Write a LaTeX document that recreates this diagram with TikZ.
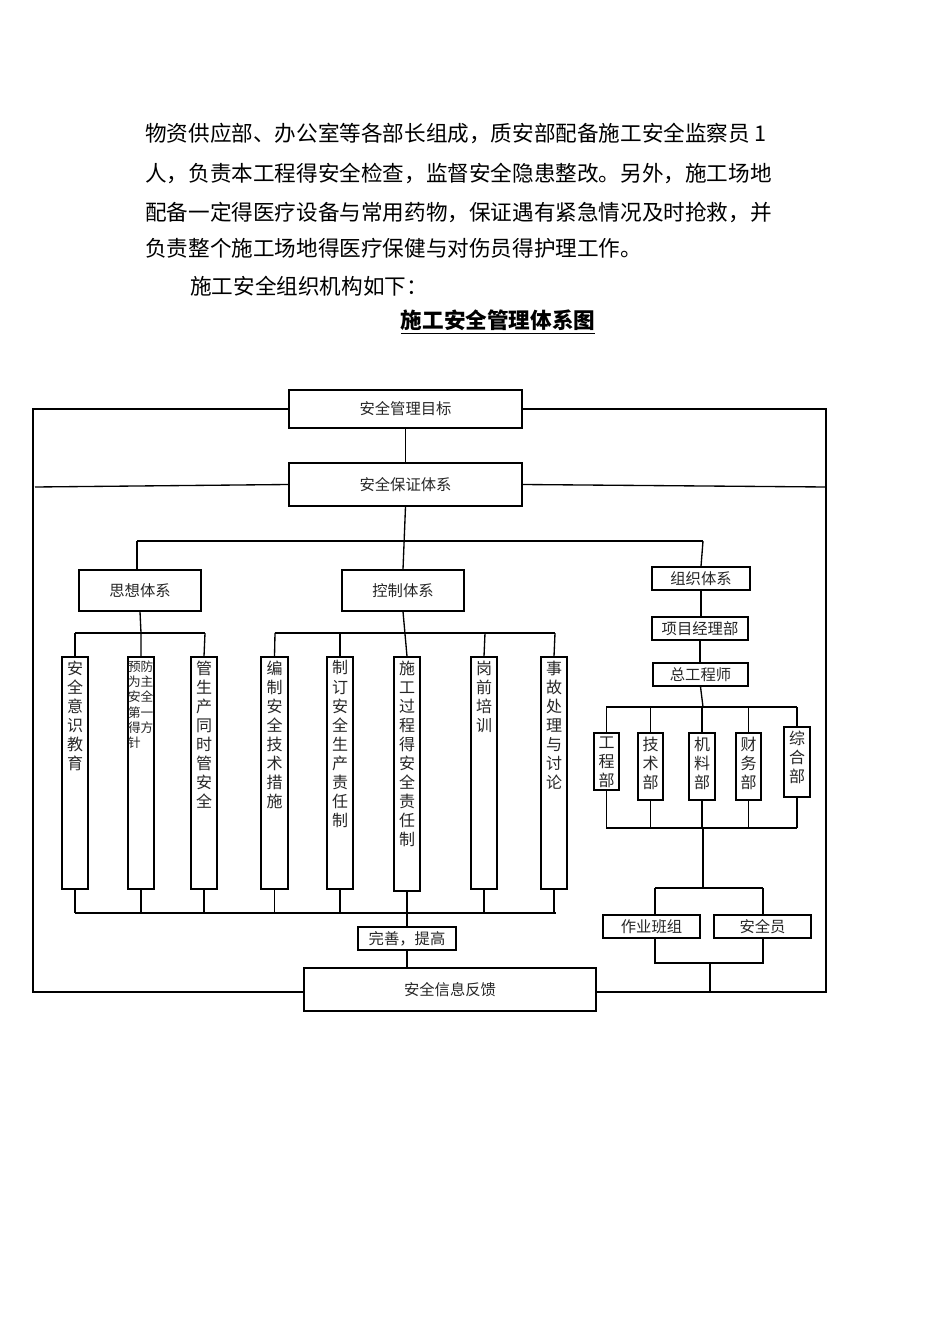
\documentclass[tikz,border=0pt]{standalone}
\usepackage{fontspec}
\setmainfont{Noto Sans CJK SC}
\usetikzlibrary{fit}
\tikzset{
  box/.style={draw, line width=1pt, inner sep=0pt},
  ln/.style={line width=1pt},
  para/.style={anchor=west, inner sep=0pt, font=\fontsize{16.2}{18}\selectfont},
  lab/.style={font=\fontsize{11.5}{13}\selectfont, text=black!85},
  vt/.style={anchor=north, align=center, inner sep=0pt, font=\fontsize{12}{14.3}\selectfont, text=black!85},
}
\newcommand\bx[6]{\node[box, fit={(#2,#3)(#4,#5)}] (#1) {}; \node[lab] at (#1.center) {#6};}
\begin{document}
\begin{tikzpicture}[x=0.75pt,y=-0.75pt]
\useasboundingbox (0,0) rectangle (950,1344);
% paragraph
\node[para] (p1) at (145,133) {物资供应部、办公室等各部长组成，质安部配备施工安全监察员 1};
\node[para] (p2) at (145,173) {人，负责本工程得安全检查，监督安全隐患整改。另外，施工场地};
\node[para] (p3) at (145,212) {配备一定得医疗设备与常用药物，保证遇有紧急情况及时抢救，并};
\node[para] (p4) at (145,248) {负责整个施工场地得医疗保健与对伤员得护理工作。};
\node[para] (p5) at (190,286) {施工安全组织机构如下：};
\node[inner sep=0pt, font=\fontsize{16.2}{18}\bfseries] (title) at (498,322) {\underline{施工安全管理体系图}};
% main boxes
\bx{mb}{289}{390}{522}{428}{安全管理目标}
\bx{bz}{289}{463}{522}{506}{安全保证体系}
\bx{sx}{79}{570}{201}{611}{思想体系}
\bx{kz}{342}{570}{464}{611}{控制体系}
\bx{zz}{652}{567}{750}{590}{组织体系}
\bx{xm}{652}{617}{748}{640}{项目经理部}
\bx{zg}{653}{663}{748}{686}{总工程师}
\bx{ws}{358}{927}{456}{950}{完善，提高}
\bx{fk}{304}{968}{596}{1011}{安全信息反馈}
\bx{zy}{603}{915}{700}{938}{作业班组}
\bx{aq}{714}{915}{811}{938}{安全员}
% vertical boxes
\node[box, fit={(62,657)(88,889)}] (v1) {};
\node[vt] at ([yshift=-3pt]v1.north) {安\\全\\意\\识\\教\\育};
\node[box, fit={(128,657)(154,889)}] (v2) {};
\node[vt, font=\fontsize{9.5}{11.5}\selectfont, xshift=-0.2pt] at ([yshift=-3pt]v2.north) {预防\\为主\\安全\\第一\\得方\\针\phantom{针}};
\node[box, fit={(191,657)(217,889)}] (v3) {};
\node[vt] at ([yshift=-3pt]v3.north) {管\\生\\产\\同\\时\\管\\安\\全};
\node[box, fit={(261,657)(288,889)}] (v4) {};
\node[vt] at ([yshift=-3pt]v4.north) {编\\制\\安\\全\\技\\术\\措\\施};
\node[box, fit={(327,657)(353,889)}] (v5) {};
\node[vt] at ([yshift=-3pt]v5.north) {制\\订\\安\\全\\生\\产\\责\\任\\制};
\node[box, fit={(394,657)(420,891)}] (v6) {};
\node[vt] at ([yshift=-3pt]v6.north) {施\\工\\过\\程\\得\\安\\全\\责\\任\\制};
\node[box, fit={(471,657)(497,889)}] (v7) {};
\node[vt] at ([yshift=-3pt]v7.north) {岗\\前\\培\\训};
\node[box, fit={(541,657)(567,889)}] (v8) {};
\node[vt] at ([yshift=-3pt]v8.north) {事\\故\\处\\理\\与\\讨\\论};
% department boxes
\node[box, fit={(594,733)(619,790)}] (d1) {};
\node[vt] at ([yshift=-3pt]d1.north) {工\\程\\部};
\node[box, fit={(638,733)(663,800)}] (d2) {};
\node[vt] at ([yshift=-3pt]d2.north) {技\\术\\部};
\node[box, fit={(689,733)(715,800)}] (d3) {};
\node[vt] at ([yshift=-3pt]d3.north) {机\\料\\部};
\node[box, fit={(736,733)(761,800)}] (d4) {};
\node[vt] at ([yshift=-3pt]d4.north) {财\\务\\部};
\node[box, fit={(784,727)(810,797)}] (d5) {};
\node[vt] at ([yshift=-3pt]d5.north) {综\\合\\部};
% frame
\draw[ln] (mb.west) -- (33,409) -- (33,992) -- (fk.west |- 0,992);
\draw[ln] (mb.east) -- (826,409) -- (826,992) -- (fk.east |- 0,992);
\draw[ln] (bz.west) -- (35,487);
\draw[ln] (bz.east) -- (826,487);
% top tree
\draw[ln] (mb.south) -- (bz.north);
\draw[ln] (bz.south) -- (kz.north);
\draw[ln] (137,541) -- (703,541);
\draw[ln] (137,541) -- (137,570);
\draw[ln] (703,541) -- (zz.north);
% thought system
\draw[ln] (sx.south) -- (141,633) -- (v2.north);
\draw[ln] (75,633) -- (205,633);
\draw[ln] (75,633) -- (v1.north);
\draw[ln] (205,633) -- (v3.north);
% control system
\draw[ln] (kz.south) -- (v6.north);
\draw[ln] (275,633) -- (555,633);
\draw[ln] (275,633) -- (v4.north);
\draw[ln] (340,633) -- (v5.north);
\draw[ln] (485,633) -- (v7.north);
\draw[ln] (555,633) -- (v8.north);
% bottom bar
\draw[ln] (75,913) -- (556,913);
\foreach \v in {v1,v2,v3,v4,v5,v7,v8} {\draw[ln] (\v.south) -- (\v.south |- 0,913);}
\draw[ln] (v6.south) -- (ws.north);
\draw[ln] (ws.south) -- (fk.north -| ws.south);
% org system
\draw[ln] (zz.south) -- (zz.south |- xm.north);
\draw[ln] (xm.south) -- (xm.south |- zg.north);
\draw[ln] (zg.south) -- (703,707);
\draw[ln] (606,707) -- (797,707);
\foreach \d in {d1,d2,d3,d4,d5} {\draw[ln] (\d.north) -- (\d.north |- 0,707);}
\draw[ln] (606,828) -- (797,828);
\foreach \d in {d1,d2,d3,d4,d5} {\draw[ln] (\d.south) -- (\d.south |- 0,828);}
\draw[ln] (703,828) -- (703,888);
\draw[ln] (655,888) -- (763,888);
\draw[ln] (655,888) -- (zy.north -| 655,0);
\draw[ln] (763,888) -- (aq.north -| 763,0);
\draw[ln] (zy.south -| 655,0) -- (655,963) -- (763,963) -- (aq.south -| 763,0);
\draw[ln] (710,963) -- (710,992);
\end{tikzpicture}
\end{document}
